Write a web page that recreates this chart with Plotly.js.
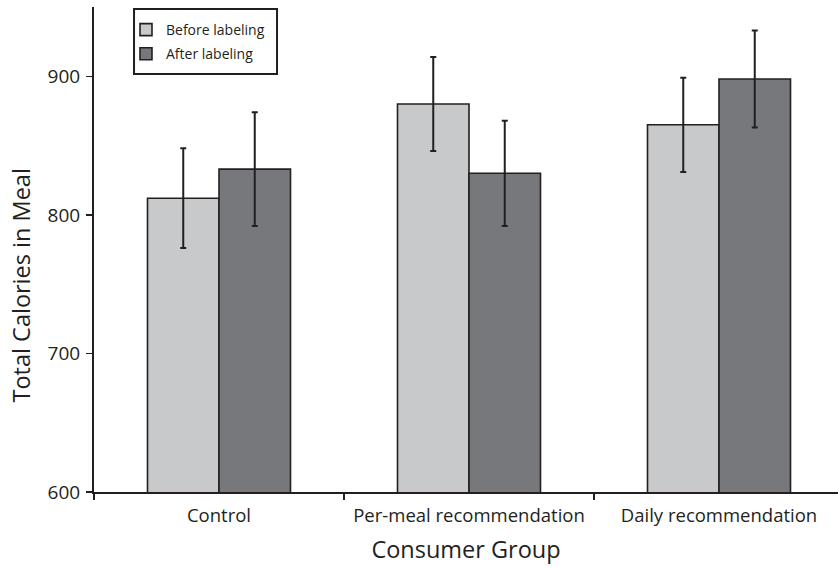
<!DOCTYPE html>
<html><head><meta charset="utf-8">
<script src="https://cdn.plot.ly/plotly-3.0.1.min.js"></script>
<style>html,body{margin:0;padding:0;background:#fff}#chart{width:838px;height:567px}</style>
</head><body><div id="chart"></div>
<script>
const groups = ["Control", "Per-meal recommendation", "Daily recommendation"];
const beforeVals = [812, 880, 865];
const beforeErr = [36, 34, 34];
const afterVals = [833, 830, 898];
const afterErr = [41, 38, 35];
const yTicks = [600, 700, 800, 900];

const ink = "#231f20";
const fontFam = "Open Sans, sans-serif";

const traces = [
  {type: "bar", name: "Before labeling", x: groups, y: beforeVals, legendgroup: "a",
   marker: {color: "#c8c9cb", line: {color: ink, width: 1.6}},
   error_y: {type: "data", array: beforeErr, visible: true, color: ink, thickness: 2, width: 3}},
  {type: "bar", name: "After labeling", x: groups, y: afterVals, legendgroup: "b",
   marker: {color: "#77787c", line: {color: ink, width: 1.6}},
   error_y: {type: "data", array: afterErr, visible: true, color: ink, thickness: 2, width: 3}}
];

const layout = {
  width: 838, height: 567,
  margin: {l: 94, r: 0, t: 7, b: 75},
  paper_bgcolor: "#fff", plot_bgcolor: "#fff",
  font: {family: fontFam, color: ink},
  barmode: "group", bargap: 0.428, bargroupgap: 0,
  showlegend: true,
  legend: {x: 0.043, y: 0.9856, xanchor: "left", yanchor: "top",
    borderwidth: 0, bgcolor: "rgba(0,0,0,0)", traceorder: "grouped", tracegroupgap: 3,
    font: {size: 14, family: fontFam, color: ink}, itemwidth: 30},
  shapes: [
    {type: "rect", xref: "paper", yref: "paper", x0: 0.0538, x1: 0.246, y0: 0.862, y1: 0.9959,
     line: {color: ink, width: 2}, fillcolor: "rgba(0,0,0,0)", layer: "above"}
  ],
  annotations: [
    {text: "Total Calories in Meal", xref: "paper", yref: "paper", x: -0.0968, y: 0.4258,
     xanchor: "center", yanchor: "middle", textangle: -90, showarrow: false,
     font: {size: 23.5, family: fontFam, color: ink}}
  ],
  xaxis: {type: "category", range: [-0.5, 2.476], tickson: "boundaries",
    ticks: "outside", ticklen: 6, tickwidth: 1.5, tickcolor: ink, ticklabelstandoff: 6,
    showline: true, linecolor: ink, linewidth: 2, showgrid: false, zeroline: false,
    tickfont: {size: 18.5, family: fontFam, color: ink},
    title: {text: "Consumer Group", font: {size: 23.5, family: fontFam, color: ink}, standoff: 15}},
  yaxis: {range: [600, 950], tickvals: yTicks, ticktext: yTicks.map(String),
    ticks: "outside", ticklen: 6, tickwidth: 1.5, tickcolor: ink, ticklabelstandoff: 2,
    showline: true, linecolor: ink, linewidth: 2, showgrid: false, zeroline: false,
    tickfont: {size: 19, family: fontFam, color: ink}}
};

Plotly.newPlot("chart", traces, layout, {displayModeBar: false, staticPlot: true});
</script></body></html>
